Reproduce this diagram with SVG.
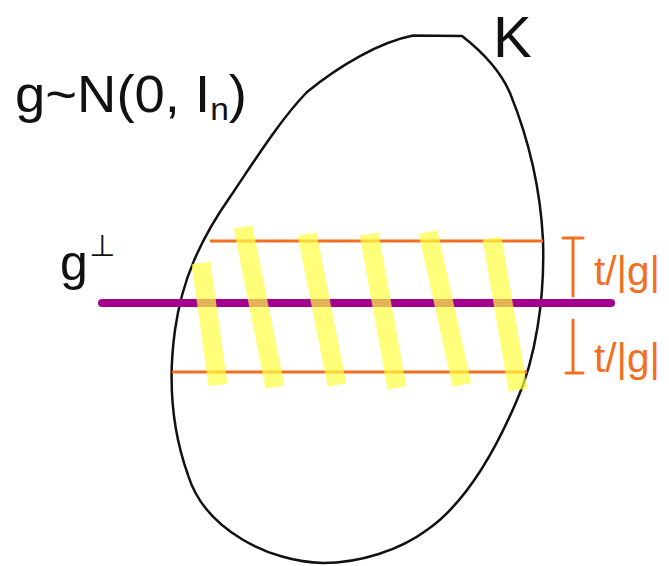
<svg xmlns="http://www.w3.org/2000/svg" width="669" height="566" viewBox="0 0 669 566">
<style>
.ink{font-family:"Liberation Sans","DejaVu Sans",sans-serif;fill:#111}
.or{font-family:"Liberation Sans","DejaVu Sans",sans-serif;fill:#f26f21}
.stripe{stroke:#ffff40;stroke-opacity:0.7;stroke-width:19;fill:none}
.oline{stroke:#f26f21;stroke-width:3;fill:none}
</style>
<rect width="669" height="566" fill="#fff"/>
<g id="body-K">
<path d="M413,35.5 L462,36 C480,50 500,70 510,93 C525,130 540,180 543,240 C545,300 535,360 517,400 C500,440 470,500 427,530 C400,550 360,563 323,563 C270,562 205,530 188,475 C172,430 168,380 175,330 C182,280 200,240 230,197 C255,160 280,120 307,92 C340,65 380,42 413,35.5 Z" fill="none" stroke="#111" stroke-width="2.5" stroke-linejoin="round"/>
<text class="ink" x="493" y="57" font-size="58">K</text>
</g>
<g id="label-g">
<text class="ink" x="15" y="112" font-size="52" textLength="232" lengthAdjust="spacingAndGlyphs">g~N(0, I<tspan font-size="32" dy="8">n</tspan><tspan dy="-8">)</tspan></text>
</g>
<g id="bands">
<line class="oline" x1="210" y1="241" x2="543" y2="241"/>
<line class="oline" x1="172" y1="372" x2="527" y2="372"/>
</g>
<g id="line-gperp">
<line x1="102" y1="303" x2="611" y2="303" stroke="#a3008f" stroke-width="8" stroke-linecap="round"/>
<text class="ink" x="60" y="280" font-size="50">g</text>
<text class="ink" x="89" y="256" font-size="30">⊥</text>
</g>
<g id="stripes">
<line class="stripe" x1="201" y1="263" x2="218" y2="385"/>
<line class="stripe" x1="243" y1="227" x2="275" y2="387"/>
<line class="stripe" x1="307" y1="234" x2="337" y2="385"/>
<line class="stripe" x1="369" y1="234" x2="397" y2="388"/>
<line class="stripe" x1="428" y1="232" x2="462" y2="385"/>
<line class="stripe" x1="492" y1="238" x2="518" y2="390"/>
</g>
<g id="widths">
<path d="M563,238 L583,238 M573,238 L573,296" stroke="#f26f21" stroke-width="3" fill="none" stroke-linecap="round"/>
<path d="M573,320 L573,373 M566,373 L583,373" stroke="#f26f21" stroke-width="3" fill="none" stroke-linecap="round"/>
<text class="or" x="594" y="285" font-size="40" textLength="66" lengthAdjust="spacingAndGlyphs">t/|g|</text>
<text class="or" x="594" y="372" font-size="40" textLength="66" lengthAdjust="spacingAndGlyphs">t/|g|</text>
</g>
</svg>
